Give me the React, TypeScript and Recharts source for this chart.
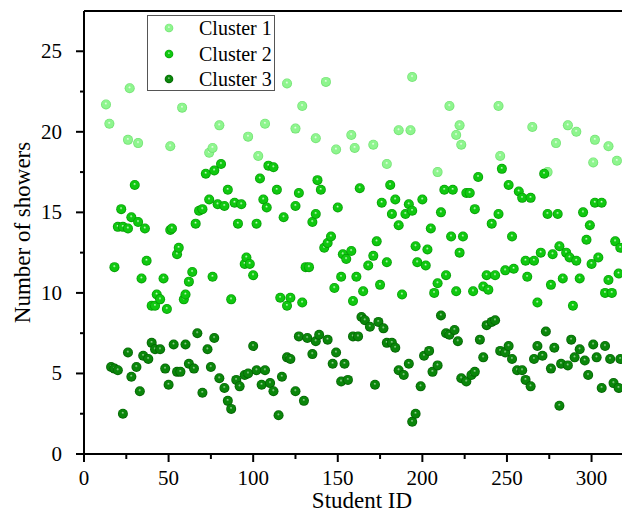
import React from 'react';
import { ScatterChart, Scatter, XAxis, YAxis, Legend, ReferenceLine } from 'recharts';

const seriesNames = ['Cluster 1', 'Cluster 2', 'Cluster 3'];

const cluster1: [number, number][] = [
  [13, 21.7], [15, 20.5], [26, 19.5], [27, 22.7], [32, 19.3], [51, 19.1], [58, 21.5], [74, 18.7],
  [76, 19.0], [80, 20.4], [97, 19.7], [103, 18.5], [107, 20.5], [120, 23.0], [125, 20.2], [129, 21.6],
  [137, 19.6], [143, 23.1], [149, 18.9], [158, 19.8], [160, 19.0], [171, 19.2], [179, 18.0], [186, 20.1],
  [193, 20.1], [194, 23.4], [209, 17.5], [216, 21.6], [220, 19.8], [222, 20.4], [223, 19.2], [245, 21.6],
  [246, 18.5], [265, 20.3], [274, 17.5], [279, 19.3], [286, 20.4], [291, 20.0], [301, 18.1], [302, 19.5],
  [310, 19.1], [315, 18.2],
];

const cluster2: [number, number][] = [
  [18, 11.6], [20, 14.1], [22, 15.2], [23, 14.1], [26, 14.0], [28, 14.7], [30, 16.7], [32, 14.4],
  [34, 10.9], [36, 14.0], [37, 12.0], [40, 9.2], [42, 9.2], [43, 9.9], [45, 9.6], [47, 10.9],
  [49, 9.0], [51, 13.9], [52, 14.0], [55, 12.4], [56, 12.8], [59, 9.6], [60, 9.9], [62, 10.7],
  [64, 11.3], [66, 14.3], [68, 15.1], [70, 15.2], [72, 17.4], [74, 15.8], [76, 11.0], [77, 17.6],
  [79, 15.5], [81, 18.0], [83, 15.4], [85, 16.4], [87, 9.6], [89, 15.6], [91, 14.3], [93, 15.5],
  [95, 11.8], [96, 12.2], [98, 11.8], [100, 11.1], [102, 14.3], [104, 17.1], [106, 15.8], [108, 15.3],
  [109, 17.9], [112, 17.8], [114, 16.4], [116, 9.7], [118, 14.7], [120, 9.2], [122, 9.7], [125, 15.4],
  [127, 16.2], [129, 9.4], [131, 11.6], [133, 11.6], [135, 14.4], [137, 14.9], [138, 17.0], [140, 16.4],
  [142, 12.8], [144, 13.1], [146, 13.5], [148, 10.3], [150, 15.3], [152, 11.0], [153, 12.4], [155, 12.1],
  [158, 12.6], [159, 9.5], [161, 11.0], [163, 16.5], [165, 10.1], [168, 11.7], [171, 12.3], [173, 13.2],
  [175, 10.5], [176, 15.6], [179, 11.9], [181, 16.7], [182, 14.9], [184, 15.8], [186, 14.2], [188, 9.9],
  [190, 14.9], [192, 15.5], [194, 15.1], [196, 12.9], [197, 11.9], [200, 15.8], [202, 11.7], [203, 12.7],
  [205, 14.0], [207, 10.0], [209, 10.6], [211, 15.0], [213, 16.4], [214, 11.1], [217, 13.5], [218, 16.4],
  [220, 10.1], [222, 12.5], [224, 13.5], [226, 16.2], [228, 16.2], [230, 10.1], [231, 15.2], [233, 17.2],
  [236, 10.4], [238, 11.1], [239, 10.2], [241, 14.3], [243, 11.1], [245, 14.9], [247, 17.7], [249, 11.4],
  [251, 16.7], [253, 13.5], [254, 11.5], [257, 16.3], [259, 15.9], [261, 12.0], [262, 11.0], [264, 15.9],
  [266, 12.0], [268, 9.4], [270, 12.5], [272, 17.4], [274, 14.9], [276, 10.5], [277, 12.4], [280, 14.9],
  [281, 12.9], [283, 10.9], [285, 12.5], [287, 12.2], [289, 9.2], [291, 12.0], [293, 10.9], [295, 15.0],
  [297, 13.3], [299, 14.2], [300, 11.8], [302, 15.6], [304, 12.2], [306, 15.6], [308, 10.0], [310, 10.8],
  [312, 10.0], [314, 13.2], [316, 11.2], [317, 12.8],
];

const cluster3: [number, number][] = [
  [16, 5.4], [18, 5.3], [20, 5.2], [23, 2.5], [26, 6.3], [28, 4.8], [31, 5.4], [33, 3.9],
  [35, 6.1], [38, 5.9], [40, 6.9], [42, 6.5], [45, 6.5], [48, 5.3], [50, 4.3], [53, 6.8],
  [55, 5.1], [57, 5.1], [60, 6.8], [62, 5.6], [65, 5.3], [67, 7.5], [70, 3.8], [73, 6.5],
  [75, 5.4], [77, 7.2], [80, 4.7], [83, 4.1], [85, 3.3], [87, 2.8], [90, 4.6], [92, 4.2],
  [95, 4.9], [97, 5.0], [100, 6.7], [102, 5.2], [105, 4.3], [107, 5.2], [110, 4.4], [112, 3.9],
  [115, 2.4], [117, 4.8], [120, 6.0], [122, 5.9], [125, 3.9], [127, 7.3], [130, 3.3], [132, 7.2],
  [135, 6.2], [137, 7.0], [139, 7.4], [144, 7.1], [147, 5.6], [149, 6.3], [152, 4.5], [154, 5.6],
  [156, 4.6], [159, 7.3], [162, 7.3], [164, 8.5], [166, 8.3], [169, 7.9], [172, 4.3], [174, 8.2],
  [177, 7.8], [179, 6.9], [182, 6.9], [184, 6.6], [186, 5.2], [189, 4.9], [192, 5.6], [194, 2.0],
  [196, 2.5], [199, 4.2], [201, 6.1], [204, 6.4], [206, 5.1], [209, 5.5], [211, 8.6], [214, 7.5],
  [216, 7.4], [219, 7.7], [221, 7.0], [223, 4.7], [226, 4.5], [229, 4.9], [231, 5.1], [234, 7.1],
  [236, 6.0], [238, 8.0], [241, 8.2], [243, 8.3], [246, 6.4], [249, 6.3], [251, 6.7], [253, 5.9],
  [256, 5.2], [259, 5.2], [261, 4.6], [264, 4.2], [266, 5.9], [268, 6.7], [271, 6.1], [273, 7.6],
  [276, 5.3], [278, 6.6], [281, 3.0], [282, 5.6], [286, 5.5], [288, 7.1], [290, 6.0], [293, 6.5],
  [296, 5.8], [298, 4.9], [301, 6.8], [303, 6.0], [306, 4.1], [308, 6.7], [311, 5.9], [313, 4.4],
  [316, 4.1], [317, 5.9],
];

const xTicks = [0, 25, 50, 75, 100, 125, 150, 175, 200, 225, 250, 275, 300];
const yTicks = [0, 2.5, 5, 7.5, 10, 12.5, 15, 17.5, 20, 22.5, 25];

const palette = [
  { id: 'sph1', hi: '#f4fff4', mid: '#8ef58e', edge: '#6ade6a' },
  { id: 'sph2', hi: '#d6ffd6', mid: '#10c810', edge: '#009400' },
  { id: 'sph3', hi: '#a6d8a6', mid: '#0a860a', edge: '#005a00' },
];

const FONT = '"Liberation Serif", "Times New Roman", serif';

const toPoints = (arr: [number, number][]) => arr.map(([id, showers]) => ({ id, showers }));
const seriesData = [toPoints(cluster1), toPoints(cluster2), toPoints(cluster3)];

const Grad = ({ p }: { p: typeof palette[number] }) => (
  <radialGradient id={p.id} cx="50%" cy="50%" r="50%" fx="48%" fy="38%">
    <stop offset="0%" stopColor={p.hi} />
    <stop offset="30%" stopColor={p.mid} />
    <stop offset="75%" stopColor={p.mid} />
    <stop offset="100%" stopColor={p.edge} />
  </radialGradient>
);

const makeShape = (gid: string) => (props: any) => (
  <circle cx={props.cx} cy={props.cy} r={5} fill={`url(#${gid})`} />
);

const XTick = (props: any) => {
  const { x, y, payload } = props;
  const v = payload.value;
  const major = v % 50 === 0;
  return (
    <g>
      <line x1={x} x2={x} y1={y} y2={y + (major ? 8 : 5)} stroke="#000" strokeWidth={2} />
      {major && (
        <text x={x} y={y + 31} textAnchor="middle" fontFamily={FONT} fontSize={21} fill="#000">
          {v}
        </text>
      )}
    </g>
  );
};

const YTick = (props: any) => {
  const { x, y, payload } = props;
  const v = payload.value;
  const major = v % 5 === 0;
  return (
    <g>
      <line x1={x} x2={x - (major ? 8 : 4)} y1={y} y2={y} stroke="#000" strokeWidth={2} />
      {major && (
        <text x={x - 22} y={y + 7} textAnchor="end" fontFamily={FONT} fontSize={21} fill="#000">
          {v}
        </text>
      )}
    </g>
  );
};

const XTitle = () => (
  <text x={362} y={508} textAnchor="middle" fontFamily={FONT} fontSize={23} fill="#000">
    Student ID
  </text>
);

const YTitle = () => (
  <text
    x={30}
    y={232.5}
    transform="rotate(-90, 30, 232.5)"
    textAnchor="middle"
    fontFamily={FONT}
    fontSize={23}
    fill="#000"
  >
    Number of showers
  </text>
);

const rowCenters = [12, 38, 63];

const LegendBox = () => (
  <div
    style={{
      position: 'relative',
      width: 128,
      height: 76,
      boxSizing: 'border-box',
      border: '1px solid #555',
      background: '#fff',
      fontFamily: FONT,
      fontSize: 20,
      color: '#000',
    }}
  >
    {seriesNames.map((name, i) => (
      <div
        key={name}
        style={{ position: 'absolute', left: 0, top: rowCenters[i] - 12, height: 24, width: '100%' }}
      >
        <svg width={10} height={10} style={{ position: 'absolute', left: 16, top: 7 }}>
          <defs>
            <Grad p={{ ...palette[i], id: palette[i].id + 'L' }} />
          </defs>
          <circle cx={5} cy={5} r={4.3} fill={`url(#${palette[i].id}L)`} />
        </svg>
        <span style={{ position: 'absolute', left: 51, top: 0, lineHeight: '24px', whiteSpace: 'nowrap' }}>
          {name}
        </span>
      </div>
    ))}
  </div>
);

export default function App() {
  return (
    <div style={{ width: 622, height: 515 }}>
      <style>{'body{margin:0}'}</style>
      <ScatterChart width={622} height={515} margin={{ top: 11, right: 0, bottom: 0, left: 0 }}>
        <defs>
          {palette.map((p) => (
            <Grad key={p.id} p={p} />
          ))}
        </defs>
        <XAxis
          type="number"
          dataKey="id"
          domain={[0, 318]}
          ticks={xTicks}
          interval={0}
          height={61}
          tickSize={0}
          tickMargin={0}
          tickLine={false}
          axisLine={{ stroke: '#000', strokeWidth: 2 }}
          tick={<XTick />}
          label={<XTitle />}
        />
        <YAxis
          type="number"
          dataKey="showers"
          domain={[0, 27.5]}
          ticks={yTicks}
          interval={0}
          width={84}
          tickSize={0}
          tickMargin={0}
          tickLine={false}
          axisLine={{ stroke: '#000', strokeWidth: 2 }}
          tick={<YTick />}
          label={<YTitle />}
        />
        <ReferenceLine y={27.5} stroke="#000" strokeWidth={2} />
        {seriesData.map((d, i) => (
          <Scatter
            key={seriesNames[i]}
            name={seriesNames[i]}
            data={d}
            isAnimationActive={false}
            shape={makeShape(palette[i].id)}
          />
        ))}
        <Legend
          layout="vertical"
          align="center"
          verticalAlign="middle"
          wrapperStyle={{ left: 147, top: 15, width: 128, height: 76 }}
          content={() => <LegendBox />}
        />
      </ScatterChart>
    </div>
  );
}
